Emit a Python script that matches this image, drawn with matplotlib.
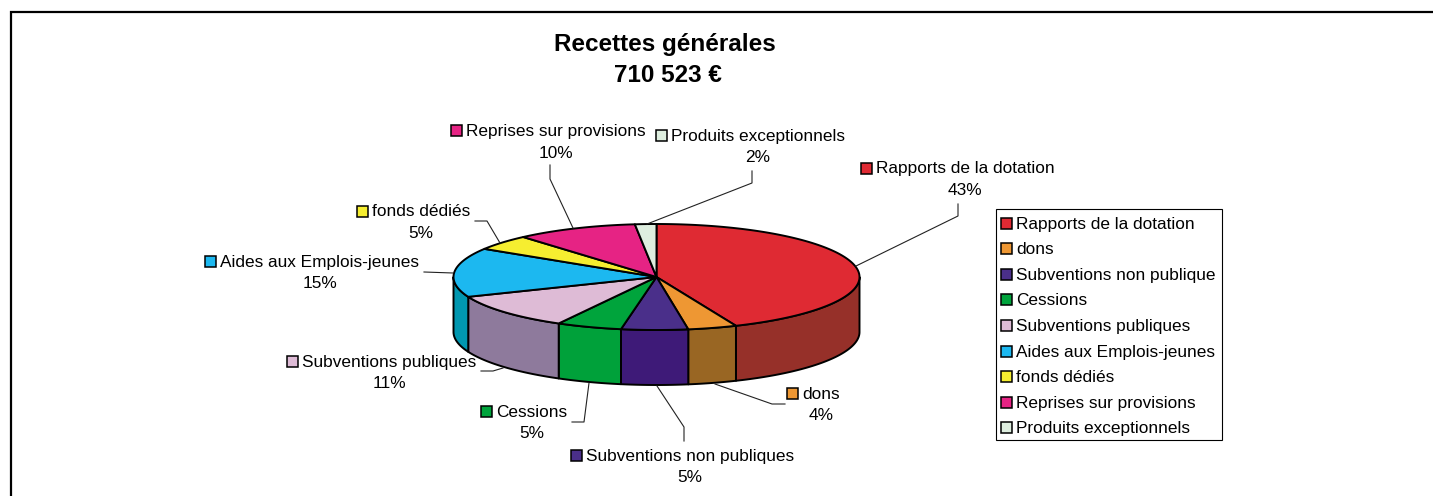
import numpy as np
import matplotlib
matplotlib.use('Agg')
import matplotlib.pyplot as plt
from matplotlib.patches import Polygon, Rectangle

plt.rcParams['font.family'] = ['Liberation Sans', 'DejaVu Sans']

# data
titles = ['Recettes générales', '710 523 €']
categories = ['Rapports de la dotation', 'dons', 'Subventions non publiques', 'Cessions',
              'Subventions publiques', 'Aides aux Emplois-jeunes', 'fonds dédiés',
              'Reprises sur provisions', 'Produits exceptionnels']
legend_names = ['Rapports de la dotation', 'dons', 'Subventions non publique', 'Cessions',
                'Subventions publiques', 'Aides aux Emplois-jeunes', 'fonds dédiés',
                'Reprises sur provisions', 'Produits exceptionnels']
shares = [43.6, 3.9, 5.3, 5.2, 10.9, 15.0, 4.7, 9.7, 1.7]
percent_labels = ['43%', '4%', '5%', '5%', '11%', '15%', '5%', '10%', '2%']

# colours
top_colors = ['#df2a33', '#ee9733', '#4a2f8a', '#00a43c', '#debbd6', '#1cb8f0', '#f6ee30', '#e62384', '#deeedf']
side_colors = ['#963029', '#996623', '#3e1a78', '#00a13a', '#8e7a9c', '#0097b0', '#f6ee30', '#e62384', '#deeedf']

# layout in pixels of the picture
cx, cy = 656.5, 277
rx, ry = 203, 53
depth = 55
label_xy = [(965, 178.5), (821, 404), (690, 466), (532, 422), (389, 371.5), (320, 272), (421, 221.5), (556, 141), (758, 146)]
leaders = [
    [(856, 266), (958, 216), (958, 204)],
    [(715, 384), (772, 404), (785, 404)],
    [(657, 386), (684, 427), (684, 441)],
    [(589, 383), (584, 422), (572, 422)],
    [(503, 368), (493, 371), (481, 371)],
    [(453, 273), (424, 272)],
    [(500, 243), (487, 221), (475, 221)],
    [(573, 228), (550, 179), (550, 165)],
    [(647, 224), (752, 183), (752, 171)],
]
font_size = 12.4


def arc(a0, a1):
    # angles clockwise from the top of the ellipse, in degrees
    t = np.radians(np.linspace(a0, a1, max(int(abs(a1 - a0)) * 2, 2)))
    return cx + rx * np.sin(t), cy - ry * np.cos(t)


fig = plt.figure(figsize=(14.33, 4.96), dpi=100)
ax = fig.add_axes([0, 0, 1, 1])
ax.set_xlim(0, 1433)
ax.set_ylim(496, 0)
ax.axis('off')

# frame, open on the right and at the bottom
ax.plot([11, 11, 1433], [496, 12, 12], color='black', lw=1.6, solid_joinstyle='miter')

ends = np.cumsum(shares) / np.sum(shares) * 360
starts = np.concatenate([[0], ends[:-1]])

# side wall, only the front half of the disc shows
for i in range(len(shares)):
    a0, a1 = max(starts[i], 90), min(ends[i], 270)
    if a1 <= a0:
        continue
    x, y = arc(a0, a1)
    pts = np.column_stack([np.r_[x, x[::-1]], np.r_[y, y[::-1] + depth]])
    ax.add_patch(Polygon(pts, closed=True, fc=side_colors[i], ec='black', lw=1.4, joinstyle='round'))

# top of the disc
for i in range(len(shares)):
    x, y = arc(starts[i], ends[i])
    pts = np.column_stack([np.r_[cx, x], np.r_[cy, y]])
    ax.add_patch(Polygon(pts, closed=True, fc=top_colors[i], ec='black', lw=1.4, joinstyle='round'))

for line in leaders:
    ax.plot([p[0] for p in line], [p[1] for p in line], color='#222222', lw=0.8, zorder=1)

# pie labels with their small colour key
for i in range(len(categories)):
    lx, ly = label_xy[i]
    t = ax.text(lx, ly - 9.5, categories[i], ha='center', va='center', fontsize=font_size, zorder=4)
    ax.text(lx, ly + 12, percent_labels[i], ha='center', va='center', fontsize=font_size, zorder=4)
    fig.canvas.draw()
    box = t.get_window_extent()
    ax.add_patch(Rectangle((box.x0 - 15, ly - 16), 11, 11, fc=top_colors[i], ec='black', lw=1.1, zorder=4))

ax.text(664.5, 45, titles[0], ha='center', va='center', fontsize=17.5, fontweight='bold')
ax.text(668, 76, titles[1], ha='center', va='center', fontsize=17.5, fontweight='bold')

# legend box
ax.add_patch(Rectangle((996, 209), 226, 231, fc='white', ec='black', lw=0.8, zorder=3))
for i in range(len(legend_names)):
    row = 223 + i * 25.6
    ax.add_patch(Rectangle((1001.5, row - 5.5), 11, 11, fc=top_colors[i], ec='black', lw=1.1, zorder=4))
    ax.text(1016, row + 1, legend_names[i], ha='left', va='center', fontsize=font_size, zorder=4)

fig.savefig('out.png', dpi=100, facecolor='white')
